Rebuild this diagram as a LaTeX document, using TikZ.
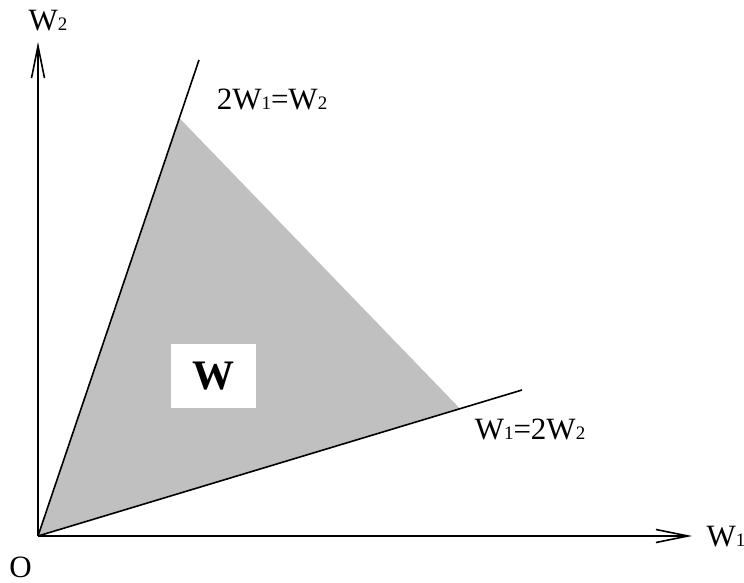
\documentclass[tikz,border=0pt]{standalone}
\usepackage{fontspec}
\setmainfont{Liberation Serif}
\usetikzlibrary{arrows.meta,calc}
\definecolor{regiongray}{RGB}{192,192,192}
\newcommand{\sm}[1]{{\fontsize{19}{19}\selectfont #1}}
\begin{document}
\begin{tikzpicture}[x=1pt,y=-1pt,
  axis/.style={line width=1.6pt,-{Straight Barb[length=32pt,width=13pt,line width=1.6pt]}},
  ray/.style={line width=1.6pt},
  lbl/.style={inner sep=0pt,font=\fontsize{31}{31}\selectfont}]
\useasboundingbox (0,0) rectangle (744,583);
\coordinate (O) at (38,536);
\coordinate (ytip) at (38,42);
\coordinate (xtip) at (692,536);
\coordinate (r1end) at (199,60);
\coordinate (r2end) at (522,390);
\coordinate (A) at ($(O)!0.878!(r1end)$);
\coordinate (B) at ($(O)!0.872!(r2end)$);
\fill[regiongray] (O) -- (A) -- (B) -- cycle;
\draw[ray] (O) -- (r1end);
\draw[ray] (O) -- (r2end);
\draw[axis] (O) -- (ytip);
\draw[axis] (O) -- (xtip);
\node[fill=white,minimum width=85pt,minimum height=64pt,inner sep=0pt] (box) at (213.5,376) {\bfseries\fontsize{42}{42}\selectfont W};
\node[lbl] (lO) at (20.5,567) {O};
\node[lbl] (lw2) at (48,21) {W\sm{2}};
\node[lbl] (lw1) at (726,537) {W\sm{1}};
\node[lbl] (lr1) at (272,99) {2W\sm{1}=W\sm{2}};
\node[lbl] (lr2) at (530,429) {W\sm{1}=2W\sm{2}};
\end{tikzpicture}
\end{document}
